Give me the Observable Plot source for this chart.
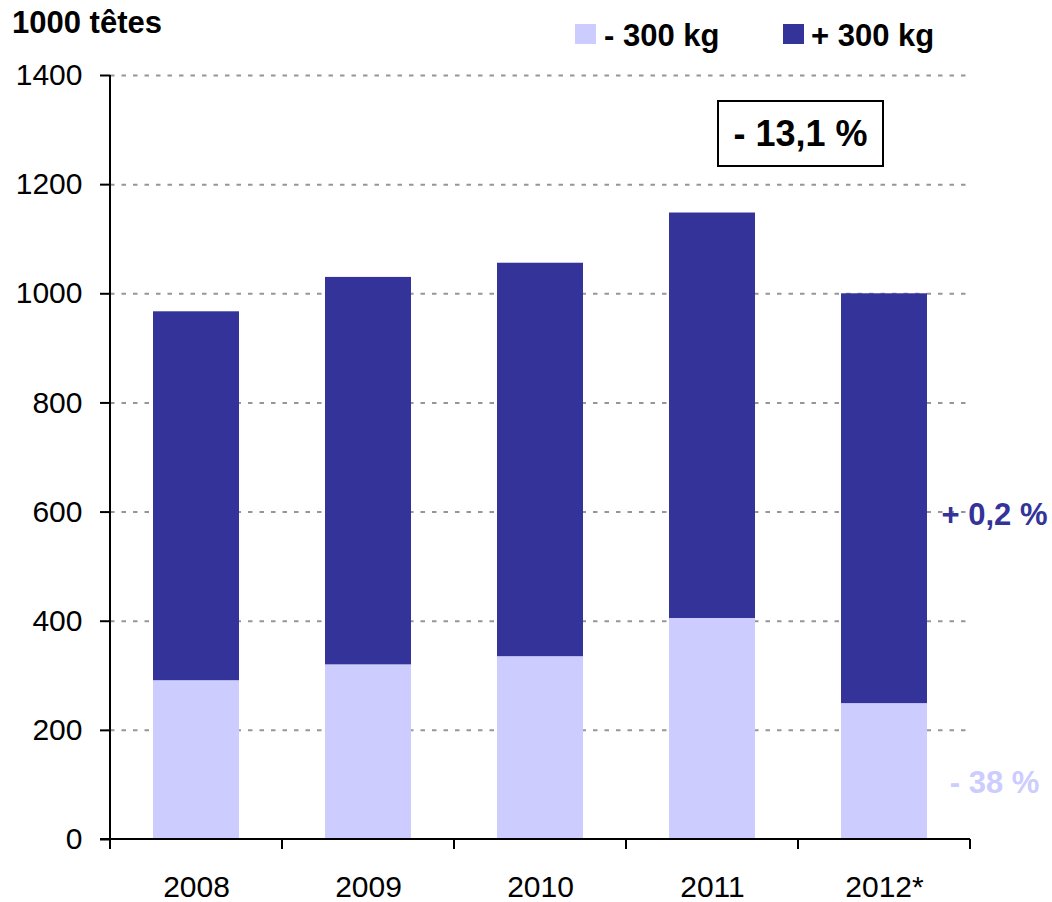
<!DOCTYPE html>
<html>
<head>
<meta charset="utf-8">
<script src="https://cdn.jsdelivr.net/npm/d3@7"></script>
<script src="https://cdn.jsdelivr.net/npm/@observablehq/plot@0.6"></script>
<style>
  body { margin: 0; background: #fff; }
  #wrap { position: relative; width: 1052px; height: 902px; font-family: "Liberation Sans", Arial, sans-serif; color: #000; }
  #wrap svg { position: absolute; left: 0; top: 0; }
  .ov { position: absolute; line-height: 1; font-weight: bold; white-space: nowrap; }
  .sw { position: absolute; width: 21px; height: 20px; }
  #box { position: absolute; left: 717px; top: 100px; width: 163px; height: 63px; border: 2px solid #000; display: flex; align-items: center; justify-content: center; font-weight: bold; font-size: 36px; line-height: 1; background: #fff; }
  svg [aria-label="y-axis tick"] path, svg [aria-label="y-axis"] line { stroke-width: 2; }
</style>
</head>
<body>
<div id="wrap"></div>
<script>
// ---- data ----
const years = ["2008", "2009", "2010", "2011", "2012*"];
const groups = ["- 300 kg", "+ 300 kg"];
const light = [291, 320, 335, 405, 249];   // - 300 kg
const heavy = [676, 710, 721, 743, 751];   // + 300 kg
const yTicks = [0, 200, 400, 600, 800, 1000, 1200, 1400];
const gridTicks = [200, 400, 600, 800, 1000, 1200, 1400];
const colors = ["#CCCCFF", "#333399"];
const unitLabel = "1000 têtes";
const totalChange = "- 13,1 %";
const annotText = ["+ 0,2 %", "- 38 %"];
const annotY = [595, 103];
const annotColor = ["#333399", "#CCCCFF"];

const rows = [];
years.forEach((y, i) => {
  rows.push({year: y, group: groups[0], value: light[i]});
  rows.push({year: y, group: groups[1], value: heavy[i]});
});
const annots = annotText.map((t, i) => ({text: t, y: annotY[i], color: annotColor[i]}));

const axisLines = (index, scales, values, dims) => {
  const {width, marginLeft, marginRight, marginTop} = dims;
  const g = d3.create("svg:g").attr("stroke", "#000").attr("stroke-width", 2);
  const y0 = scales.y(0);
  const x0 = marginLeft, x1 = width - marginRight;
  g.append("line").attr("x1", x0).attr("x2", x0).attr("y1", marginTop).attr("y2", y0 + 10);
  g.append("line").attr("x1", x0 - 10).attr("x2", x1).attr("y1", y0).attr("y2", y0);
  const n = years.length;
  for (let i = 0; i <= n; i++) {
    const xi = x0 + i * (x1 - x0) / n;
    g.append("line").attr("x1", xi).attr("x2", xi).attr("y1", y0).attr("y2", y0 + 10);
  }
  return g.node();
};

const chart = Plot.plot({
  width: 1052,
  height: 902,
  marginTop: 75,
  marginBottom: 63,
  marginLeft: 110,
  marginRight: 82,
  style: {fontSize: "30px", fontFamily: "'Liberation Sans', Arial, sans-serif", background: "transparent", color: "#000"},
  x: {domain: years, paddingInner: 0.5, paddingOuter: 0.25, tickSize: 0, tickPadding: 36, label: null},
  y: {domain: [0, 1400], ticks: yTicks, tickSize: 10, tickPadding: 18, label: null, tickFormat: d => String(d)},
  color: {domain: groups, range: colors},
  marks: [
    Plot.ruleY(gridTicks, {stroke: "#969696", strokeWidth: 2, strokeDasharray: "4.5,7"}),
    Plot.barY(rows, {x: "year", y: "value", fill: "group"}),
    axisLines,
    Plot.text(annots, {text: "text", y: "y", frameAnchor: "right", dx: 24, textAnchor: "middle", fill: "color", fontSize: 31, fontWeight: "bold"})
  ]
});

const wrap = document.getElementById("wrap");
wrap.appendChild(chart);

function addText(txt, left, top, size) {
  const d = document.createElement("div");
  d.className = "ov";
  d.style.left = left + "px";
  d.style.top = top + "px";
  d.style.fontSize = size + "px";
  d.textContent = txt;
  wrap.appendChild(d);
}
function addSwatch(color, left, top) {
  const d = document.createElement("div");
  d.className = "sw";
  d.style.left = left + "px";
  d.style.top = top + "px";
  d.style.background = color;
  wrap.appendChild(d);
}
addText(unitLabel, 12, 7, 31);
addSwatch(colors[0], 575, 24);
addText(groups[0], 604, 20, 31);
addSwatch(colors[1], 783, 24);
addText(groups[1], 811, 20, 31);
const box = document.createElement("div");
box.id = "box";
box.textContent = totalChange;
wrap.appendChild(box);
</script>
</body>
</html>
